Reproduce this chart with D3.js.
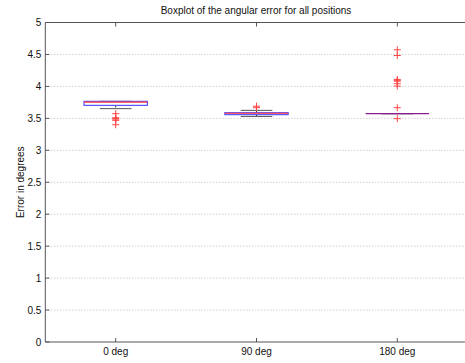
<!DOCTYPE html>
<html>
<head>
<meta charset="utf-8">
<script src="https://cdn.jsdelivr.net/npm/d3@7.9.0/dist/d3.min.js"></script>
<style>
  body { margin: 0; background: #fff; }
  svg { display: block; font-family: "Liberation Sans", Arial, sans-serif; }
</style>
</head>
<body>
<svg id="chart" width="465" height="363"></svg>
<script>
// box statistics
const categories = ["0 deg", "90 deg", "180 deg"];
const q1 = [3.703, 3.558, 3.573];
const medians = [3.755, 3.58, 3.573];
const q3 = [3.766, 3.589, 3.573];
const whiskerLow = [3.652, 3.53, 3.573];
const whiskerHigh = [3.766, 3.625, 3.573];
const outliers = [
    [3.573, 3.51, 3.495, 3.49, 3.469, 3.40],
    [3.667, 3.69],
    [4.573, 4.484, 4.109, 4.09, 4.083, 4.042, 4.005, 3.667, 3.495]
];
const yTicks = [0, 0.5, 1, 1.5, 2, 2.5, 3, 3.5, 4, 4.5, 5];

const svg = d3.select("#chart");
const plotLeft = 45.3, plotRight = 467.7, plotTop = 22.5, plotBottom = 342;
const axisColor = "#555";

const x = d3.scaleBand().domain(categories).range([plotLeft, plotRight]).padding(0);
const y = d3.scaleLinear().domain([0, 5]).range([plotBottom, plotTop]);
const cx = (c) => x(c) + x.bandwidth() / 2;
const boxW = x.bandwidth() * 0.45;
const capW = boxW / 2;

// dotted grid lines
svg.append("g")
    .selectAll("line")
    .data(yTicks.filter(d => d > 0 && d < 5))
    .join("line")
    .attr("x1", plotLeft).attr("x2", plotRight)
    .attr("y1", d => y(d)).attr("y2", d => y(d))
    .attr("stroke", "#bbb")
    .attr("stroke-dasharray", "1,2");

// axes frame (left, top, bottom)
svg.append("path")
    .attr("d", `M${plotRight},${plotTop}H${plotLeft}V${plotBottom}H${plotRight}`)
    .attr("fill", "none")
    .attr("stroke", axisColor);

// y ticks + labels
const yAxis = svg.append("g");
yAxis.selectAll("line")
    .data(yTicks)
    .join("line")
    .attr("x1", plotLeft).attr("x2", plotLeft + 4)
    .attr("y1", d => y(d)).attr("y2", d => y(d))
    .attr("stroke", axisColor);
yAxis.selectAll("text")
    .data(yTicks)
    .join("text")
    .attr("x", plotLeft - 4)
    .attr("y", d => y(d))
    .attr("dy", "0.35em")
    .attr("text-anchor", "end")
    .attr("font-size", 10)
    .attr("fill", "#111")
    .text(d => d);

// x ticks (top and bottom, pointing inward) + labels
const xAxis = svg.append("g");
xAxis.selectAll("line.b")
    .data(categories)
    .join("line")
    .attr("class", "b")
    .attr("x1", d => cx(d)).attr("x2", d => cx(d))
    .attr("y1", plotBottom).attr("y2", plotBottom - 4)
    .attr("stroke", axisColor);
xAxis.selectAll("line.t")
    .data(categories)
    .join("line")
    .attr("class", "t")
    .attr("x1", d => cx(d)).attr("x2", d => cx(d))
    .attr("y1", plotTop).attr("y2", plotTop + 4)
    .attr("stroke", axisColor);
xAxis.selectAll("text")
    .data(categories)
    .join("text")
    .attr("x", d => cx(d))
    .attr("y", 355)
    .attr("text-anchor", "middle")
    .attr("font-size", 10)
    .attr("fill", "#111")
    .text(d => d);

// boxes
const boxes = svg.append("g")
    .selectAll("g")
    .data(categories.map((c, i) => ({
        c, q1: q1[i], med: medians[i], q3: q3[i],
        lo: whiskerLow[i], hi: whiskerHigh[i], out: outliers[i]
    })))
    .join("g");

// dashed whiskers
boxes.append("line")
    .attr("x1", d => cx(d.c)).attr("x2", d => cx(d.c))
    .attr("y1", d => y(d.q3)).attr("y2", d => y(d.hi))
    .attr("stroke", "#333").attr("stroke-dasharray", "2,2");
boxes.append("line")
    .attr("x1", d => cx(d.c)).attr("x2", d => cx(d.c))
    .attr("y1", d => y(d.q1)).attr("y2", d => y(d.lo))
    .attr("stroke", "#333").attr("stroke-dasharray", "2,2");

// whisker caps
boxes.selectAll("line.cap")
    .data(d => [d.lo, d.hi].map(v => ({ c: d.c, v })))
    .join("line")
    .attr("class", "cap")
    .attr("x1", d => cx(d.c) - capW / 2).attr("x2", d => cx(d.c) + capW / 2)
    .attr("y1", d => y(d.v)).attr("y2", d => y(d.v))
    .attr("stroke", "#555");

// box
boxes.append("rect")
    .attr("x", d => cx(d.c) - boxW / 2)
    .attr("y", d => y(d.q3))
    .attr("width", boxW)
    .attr("height", d => Math.max(0, y(d.q1) - y(d.q3)))
    .attr("fill", "none")
    .attr("stroke", "#55f")
    .attr("stroke-width", 1.2);

// median
boxes.append("line")
    .attr("x1", d => cx(d.c) - boxW / 2).attr("x2", d => cx(d.c) + boxW / 2)
    .attr("y1", d => y(d.med)).attr("y2", d => y(d.med))
    .attr("stroke", d => d.q1 === d.q3 ? "#8a1a90" : "#f33")
    .attr("stroke-width", 1.2);

// outliers as red '+'
boxes.selectAll("path.out")
    .data(d => d.out.map(v => ({ c: d.c, v })))
    .join("path")
    .attr("class", "out")
    .attr("d", d => {
        const px = cx(d.c), py = y(d.v);
        return `M${px - 3.5},${py}H${px + 3.5}M${px},${py - 3.5}V${py + 3.5}`;
    })
    .attr("stroke", "#f44")
    .attr("stroke-width", 1)
    .attr("fill", "none");

// title and y label
svg.append("text")
    .attr("x", 256).attr("y", 14)
    .attr("text-anchor", "middle")
    .attr("font-size", 10)
    .attr("fill", "#111")
    .text("Boxplot of the angular error for all positions");

svg.append("text")
    .attr("transform", `translate(24,${(plotTop + plotBottom) / 2}) rotate(-90)`)
    .attr("text-anchor", "middle")
    .attr("font-size", 10)
    .attr("fill", "#111")
    .text("Error in degrees");
</script>
</body>
</html>
